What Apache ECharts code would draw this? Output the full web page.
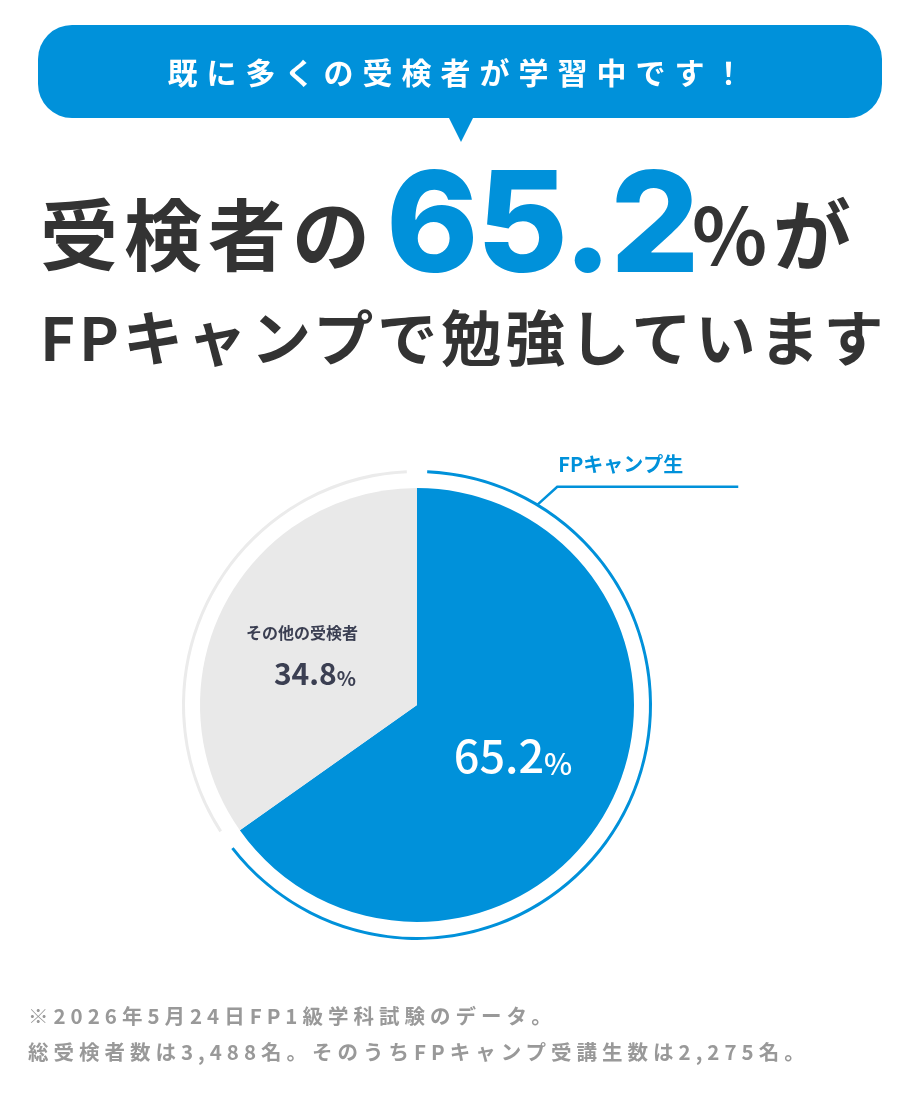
<!DOCTYPE html>
<html lang="ja">
<head>
<meta charset="utf-8">
<title>FPキャンプ受検者割合</title>
<script src="https://cdn.jsdelivr.net/npm/echarts@6.0.0/dist/echarts.min.js"></script>
<style>
  html, body { margin: 0; padding: 0; background: #fff; }
  body { width: 921px; height: 1096px; position: relative; overflow: hidden; font-family: "Noto Sans CJK JP", sans-serif; }
  #main { position: absolute; left: 0; top: 0; width: 921px; height: 1096px; z-index: 0; }
  .t { position: absolute; white-space: nowrap; font-weight: 700; z-index: 1; }
  .bubble { position: absolute; left: 38px; top: 25px; width: 844px; height: 93px; background: #0091da; border-radius: 34px; z-index: 1; }
  .tail { position: absolute; left: 448px; top: 116px; width: 0; height: 0; border-left: 13px solid transparent; border-right: 13px solid transparent; border-top: 26px solid #0091da; z-index: 1; }
  .lead { left: 38px; width: 844px; top: 56px; font-size: 30px; line-height: 30px; letter-spacing: 9px; color: #fff; text-align: center; }
  .h1a { left: 40px; top: 192px; font-size: 78px; line-height: 78px; letter-spacing: 6px; color: #333; }
  .h1n { left: 386px; top: 151px; font-family: Inter, "Noto Sans", sans-serif; font-weight: 800; font-size: 140px; line-height: 140px; letter-spacing: -2px; color: #0091da; }
  .h1b { left: 692px; top: 192px; font-size: 78px; line-height: 78px; letter-spacing: 6px; color: #333; }
  .h2 { left: 40px; top: 305px; font-size: 60px; line-height: 60px; letter-spacing: 4px; color: #333; }
  .note { left: 28px; font-size: 20.5px; line-height: 20px; letter-spacing: 5px; color: #999; }
</style>
</head>
<body>
<div id="main"></div>
<div class="bubble"></div>
<div class="tail"></div>
<div class="t lead">既に多くの受検者が学習中です！</div>
<div class="t h1a">受検者の</div>
<div class="t h1n">65.2</div>
<div class="t h1b">%が</div>
<div class="t h2">FPキャンプで勉強しています</div>
<div class="t note" style="top:1005px">※2026年5月24日FP1級学科試験のデータ。</div>
<div class="t note" style="top:1041px">総受検者数は3,488名。そのうちFPキャンプ受講生数は2,275名。</div>
<script>
var categories = ['FPキャンプ生', 'その他の受検者'];
var shares = [65.2, 34.8];
var sliceColors = ['#0091da', '#e9e9e9'];
var ringColors = ['#0091da', '#ebebeb'];

var blue = '#0091da';
var labelDark = '#3b3f52';
var cjk = '"Noto Sans CJK JP", sans-serif';

// 円グラフの位置
var pieCenter = [417, 705];
var pieRadius = 217;
var ringRadius = [232, 235];

var myChart = echarts.init(document.getElementById('main'));

var pieData = [];
var ringData = [];
for (var i = 0; i < categories.length; i++) {
  pieData.push({
    name: categories[i],
    value: shares[i],
    itemStyle: { color: sliceColors[i] }
  });
  ringData.push({
    name: categories[i],
    value: shares[i],
    itemStyle: { color: ringColors[i] },
    label: { show: i === 0 },
    labelLine: { show: i === 0 }
  });
}

option = {
  animation: false,
  series: [{
    type: 'pie',
    center: pieCenter,
    radius: [0, pieRadius],
    startAngle: 90,
    clockwise: true,
    silent: true,
    label: {
      show: true,
      position: 'inside',
      fontFamily: cjk,
      formatter: function(p) {
        if (p.dataIndex === 0) {
          return '{big|' + p.value.toFixed(1) + '}{pc|%}';
        }
        return '{name|' + p.name + '}\n{mid|' + p.value.toFixed(1) + '}{pcs|%}';
      },
      rich: {
        big: { fontFamily: cjk, fontSize: 45, fontWeight: 500, color: '#fff', verticalAlign: 'bottom', lineHeight: 48 },
        pc: { fontFamily: cjk, fontSize: 30, fontWeight: 500, color: '#fff', verticalAlign: 'bottom', lineHeight: 42 },
        name: { fontFamily: cjk, fontSize: 16, fontWeight: 'bold', color: labelDark, lineHeight: 36 },
        mid: { fontFamily: cjk, fontSize: 30, fontWeight: 'bold', color: labelDark, verticalAlign: 'bottom', lineHeight: 38, padding: [0, 0, 0, 26] },
        pcs: { fontFamily: cjk, fontSize: 20, fontWeight: 'bold', color: labelDark, verticalAlign: 'bottom', lineHeight: 34 }
      }
    },
    labelLine: { show: false },
    labelLayout: function(params) {
      if (params.dataIndex === 1) {
        return { dx: -16, dy: -2 };
      }
      return { dx: -3, dy: -2 };
    },
    data: pieData
  }, {
    type: 'pie',
    center: pieCenter,
    radius: ringRadius,
    startAngle: 90,
    clockwise: true,
    padAngle: 5,
    silent: true,
    label: {
      position: 'outside',
      formatter: '{b}',
      color: blue,
      fontFamily: cjk,
      fontSize: 20,
      fontWeight: 'bold',
      overflow: 'none',
      width: 220
    },
    labelLine: {
      show: true,
      length: 20,
      length2: 180,
      lineStyle: { color: blue, width: 2.5 }
    },
    labelLayout: function(params) {
      if (params.dataIndex !== 0) return {};
      // 引き出し線はリング上の31°の位置から
      var a = 31 * Math.PI / 180;
      var r = (ringRadius[0] + ringRadius[1]) / 2;
      var sx = pieCenter[0] + r * Math.sin(a);
      var sy = pieCenter[1] - r * Math.cos(a);
      var ex = sx + 20;
      var ey = sy - 18;
      return {
        x: ex + 1,
        y: ey - 22,
        align: 'left',
        verticalAlign: 'middle',
        labelLinePoints: [[sx, sy], [ex, ey], [ex + 181, ey]]
      };
    },
    data: ringData
  }]
};

myChart.setOption(option);
</script>
</body>
</html>
